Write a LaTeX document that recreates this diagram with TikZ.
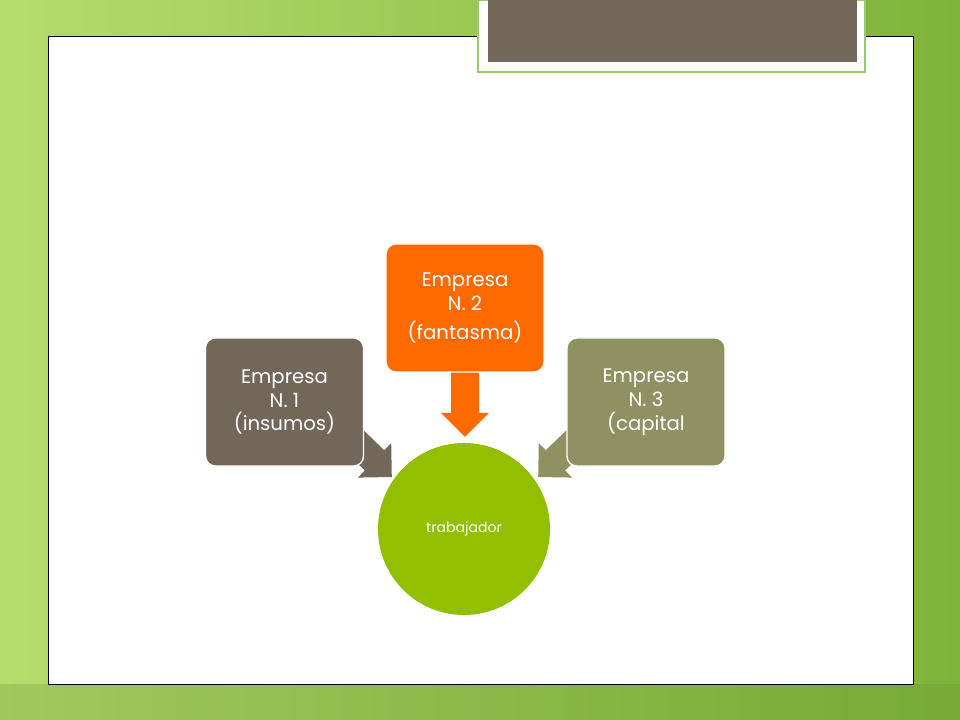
\documentclass[tikz,border=0pt]{standalone}
\usepackage{fontspec}
\setmainfont{Poppins}
\usetikzlibrary{positioning}
\definecolor{bgA}{HTML}{B4DC6E}
\definecolor{bgB}{HTML}{7FB33A}
\definecolor{brownbox}{HTML}{72685A}
\definecolor{orangebox}{HTML}{FF6A00}
\definecolor{olivebox}{HTML}{8F9163}
\definecolor{limegreen}{HTML}{92C000}
\definecolor{frameline}{HTML}{9DC870}
\tikzset{
  firm/.style={rounded corners=7pt, draw=white, line width=1pt, text=white,
    minimum width=3.95cm, minimum height=3.2cm, align=center, font=\fontsize{14}{17}\selectfont}
}
% block arrow pointing along +x, length #1
\newcommand{\blockarrow}[1]{(0,-14) -- ({#1-24},-14) -- ({#1-24},-24) -- (#1,0) -- ({#1-24},24) -- ({#1-24},14) -- (0,14) -- cycle}
\begin{document}
\begin{tikzpicture}[x=0.025cm,y=0.025cm]
  \useasboundingbox (0,0) rectangle (960,720);
  % background
  \shade[left color=bgA, right color=bgB] (0,0) rectangle (960,720);
  \fill[bgB!80!black, opacity=0.25] (0,0) rectangle (960,36);
  \fill[white, draw=black, line width=0.6pt] (48,36) rectangle (913,684);
  % title box
  \fill[white, draw=frameline, line width=1.5pt] (478,648) rectangle (865,720);
  \fill[brownbox] (488,658) rectangle (857,720);
  % arrows
  \fill[brownbox, shift={(340,293)}, rotate=-44] \blockarrow{72};
  \fill[olivebox, shift={(590,293)}, rotate=-136] \blockarrow{72};
  \fill[orangebox, shift={(465,350)}, rotate=-90] \blockarrow{67};
  % nodes
  \node[circle, fill=limegreen, minimum size=4.3cm, text=white,
    font=\fontsize{10}{12}\selectfont] (worker) at (464,191) {trabajador};
  \node[firm, fill=brownbox] (firmA) at (284.5,318) {Empresa\\N. 1\\(insumos)};
  \node[firm, fill=orangebox] (firmB) at (465,412) {Empresa\\N. 2\\[4pt](fantasma)};
  \node[firm, fill=olivebox] (firmC) at (646,318) {Empresa\\N. 3\\(capital};
\end{tikzpicture}
\end{document}
